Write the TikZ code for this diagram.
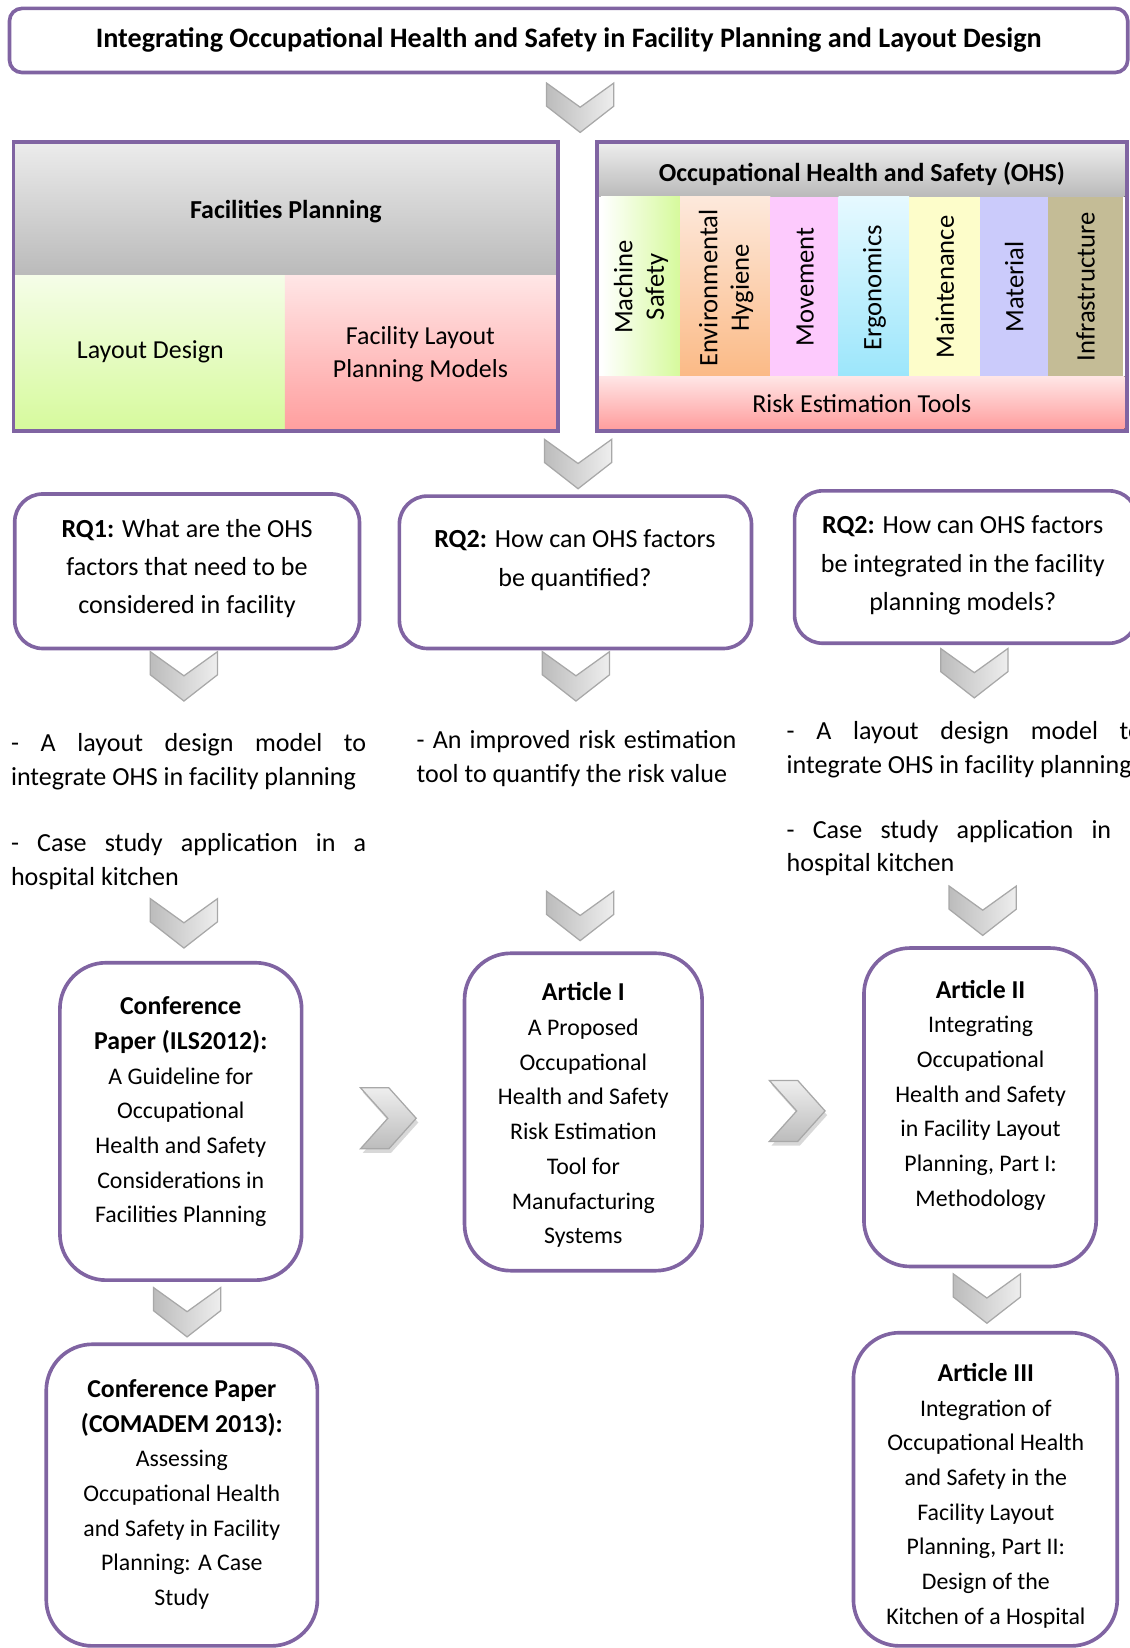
\documentclass[tikz,border=0pt]{standalone}
\usepackage{fontspec}
\setmainfont{Carlito}

\definecolor{boxpurple}{RGB}{128,100,162}
\definecolor{chevedge}{RGB}{168,168,168}
\definecolor{chevdark}{RGB}{188,188,188}
\definecolor{chevlight}{RGB}{238,238,238}
\definecolor{chevshadow}{RGB}{200,200,200}
\definecolor{hdrtop}{RGB}{236,236,236}
\definecolor{hdrbot}{RGB}{186,186,186}
\definecolor{greentop}{RGB}{245,253,232}
\definecolor{greenbot}{RGB}{214,250,156}
\definecolor{pinktop}{RGB}{255,230,230}
\definecolor{pinkbot}{RGB}{255,158,158}
\definecolor{peachtop}{RGB}{253,233,220}
\definecolor{peachbot}{RGB}{251,186,134}
\definecolor{movefill}{RGB}{253,202,253}
\definecolor{cyantop}{RGB}{230,249,255}
\definecolor{cyanbot}{RGB}{156,230,251}
\definecolor{maintfill}{RGB}{253,253,202}
\definecolor{matfill}{RGB}{203,203,251}
\definecolor{infrafill}{RGB}{196,188,150}

\newcommand{\pthead}[1]{{\fontsize{18.4}{24.75}\selectfont\bfseries #1}}

\tikzset{every picture/.style={line width=0.75pt},
  purplebox/.style={draw=boxpurple, line width=2.6pt},
  chevdown/.style={draw=chevedge, line width=0.9pt, left color=chevdark, right color=chevlight},
  chevright/.style={draw=chevedge, line width=0.9pt, top color=chevlight, bottom color=chevdark},
  chevshade/.style={fill=chevshadow, opacity=0.7},
  titletxt/.style={inner sep=0pt, font=\fontsize{20.1}{24}\selectfont\bfseries},
  hdrtxt/.style={inner sep=0pt, font=\fontsize{18.5}{22}\selectfont\bfseries},
  celltxt/.style={inner sep=0pt, align=center, font=\fontsize{18.5}{24}\selectfont},
  coltxt/.style={inner sep=0pt, align=center, rotate=90, font=\fontsize{19}{22.5}\selectfont},
  rqtxt/.style={inner sep=0pt, align=center, font=\fontsize{18.6}{27.4}\selectfont},
  outtxt/.style={inner sep=0pt, align=justify, text width=253.5pt, anchor=west, font=\fontsize{18.6}{24}\selectfont},
  papertxt/.style={inner sep=0pt, align=center, font=\fontsize{17}{24.75}\selectfont}
}

\begin{document}
\begin{tikzpicture}[x=0.75pt,y=0.75pt,yscale=-1,xscale=1]
\useasboundingbox (0,0) rectangle (1075,1568);

%Title
\draw [purplebox, rounded corners=9] (9,8) rectangle (1073,69) ;
\node [titletxt] (title) at (541,38) {Integrating Occupational Health and Safety in Facility Planning and Layout Design};

%Chevron
\draw [chevdown, shift={(552,79)}] (-32,0) -- (0,23) -- (32,0) -- (32,22) -- (0,47) -- (-32,22) -- cycle ;

%Facilities Planning block
\fill [top color=hdrtop, bottom color=hdrbot] (13,135) rectangle (531,262) ;
\fill [top color=greentop, bottom color=greenbot] (13,262) rectangle (271,410) ;
\fill [top color=pinktop, bottom color=pinkbot] (271,262) rectangle (531,410) ;
\draw [purplebox] (13,135) rectangle (531,410) ;
\node [hdrtxt] (fp) at (272,201) {Facilities Planning};
\node [celltxt] (layout) at (143,335) {Layout Design};
\node [celltxt] (flpm) at (400,337) {Facility Layout\\Planning Models};

%OHS block
\fill [top color=hdrtop, bottom color=hdrbot] (570,137) rectangle (1070,187) ;
\fill [left color=white, right color=greenbot] (572,187) rectangle (647,358) ;
\fill [top color=peachtop, bottom color=peachbot] (647,187) rectangle (733,358) ;
\fill [movefill] (733,187) rectangle (798,358) ;
\fill [top color=cyantop, bottom color=cyanbot] (798,187) rectangle (865,358) ;
\fill [maintfill] (865,187) rectangle (932,358) ;
\fill [matfill] (932,187) rectangle (997,358) ;
\fill [infrafill] (997,187) rectangle (1068,358) ;
\fill [top color=pinktop, bottom color=pinkbot] (570,358) rectangle (1070,408) ;
\draw [purplebox] (568,135) rectangle (1072,410) ;
\node [hdrtxt] (ohs) at (820,165) {Occupational Health and Safety (OHS)};
\node [coltxt] (machine) at (610,273) {Machine\\Safety};
\node [coltxt] (envhyg) at (691,274) {Environmental\\Hygiene};
\node [coltxt] (movement) at (766,273) {Movement};
\node [coltxt] (ergo) at (832,274) {Ergonomics};
\node [coltxt] (maint) at (899,273) {Maintenance};
\node [coltxt] (material) at (965,273) {Material};
\node [coltxt] (infra) at (1033,273) {Infrastructure};
\node [celltxt] (risktools) at (820,384) {Risk Estimation Tools};

%Chevron
\draw [chevdown, shift={(550,418)}] (-32,0) -- (0,23) -- (32,0) -- (32,22) -- (0,47) -- (-32,22) -- cycle ;

%Research questions
\draw [purplebox, rounded corners=20] (14,470) rectangle (342,617) ;
\node [rqtxt] (rqa) at (178,541) {\textbf{RQ1:} What are the OHS\\factors that need to be\\considered in facility};
\draw [purplebox, rounded corners=20] (380,472) rectangle (715,617) ;
\node [rqtxt] (rqb) at (547,533) {\textbf{RQ2:} How can OHS factors\\be quantified?};
\draw [purplebox, rounded corners=20] (756,467) rectangle (1082,612) ;
\node [rqtxt] (rqc) at (916,538) {\textbf{RQ2:} How can OHS factors\\be integrated in the facility\\planning models?};

%Chevrons
\draw [chevdown, shift={(175,620)}] (-32,0) -- (0,23) -- (32,0) -- (32,22) -- (0,47) -- (-32,22) -- cycle ;
\draw [chevdown, shift={(548,620)}] (-32,0) -- (0,23) -- (32,0) -- (32,22) -- (0,47) -- (-32,22) -- cycle ;
\draw [chevdown, shift={(927,617)}] (-32,0) -- (0,23) -- (32,0) -- (32,22) -- (0,47) -- (-32,22) -- cycle ;

%Outcomes
\node [outtxt] (outa) at (10,725) {- A layout design model to\linebreak integrate OHS in facility planning};
\node [outtxt] (outb) at (10,820) {- Case study application in a\linebreak hospital kitchen};
\node [outtxt, text width=228pt] (outc) at (396,722) {- An improved risk estimation\linebreak tool to quantify the risk value};
\node [outtxt] (outd) at (748,713) {- A layout design model to\linebreak integrate OHS in facility planning};
\node [outtxt] (oute) at (748,807) {- Case study application in a\linebreak hospital kitchen};

%Chevrons
\draw [chevdown, shift={(175,855)}] (-32,0) -- (0,23) -- (32,0) -- (32,22) -- (0,47) -- (-32,22) -- cycle ;
\draw [chevdown, shift={(552,848)}] (-32,0) -- (0,23) -- (32,0) -- (32,22) -- (0,47) -- (-32,22) -- cycle ;
\draw [chevdown, shift={(935,843)}] (-32,0) -- (0,23) -- (32,0) -- (32,22) -- (0,47) -- (-32,22) -- cycle ;

%Papers
\draw [purplebox, rounded corners=33] (57,916) rectangle (287,1218) ;
\node [papertxt] (ils) at (172,1058) {\pthead{Conference}\\\pthead{Paper (ILS2012):}\\A Guideline for\\Occupational\\Health and Safety\\Considerations in\\Facilities Planning};
\draw [purplebox, rounded corners=33] (442,907) rectangle (668,1209) ;
\node [papertxt] (arti) at (555,1061) {\pthead{Article I}\\A Proposed\\Occupational\\Health and Safety\\Risk Estimation\\Tool for\\Manufacturing\\Systems};
\draw [purplebox, rounded corners=33] (822,902) rectangle (1043,1205) ;
\node [papertxt] (artii) at (933,1042) {\pthead{Article II}\\Integrating\\Occupational\\Health and Safety\\in Facility Layout\\Planning, Part I:\\Methodology};

%Right chevrons (with shadow)
\fill [chevshade, shift={(345,1039)}] (0,0) -- (27,0) -- (53,29) -- (27,58) -- (0,58) -- (26,29) -- cycle ;
\draw [chevright, shift={(343,1035)}] (0,0) -- (27,0) -- (53,29) -- (27,58) -- (0,58) -- (26,29) -- cycle ;
\fill [chevshade, shift={(734,1032)}] (0,0) -- (27,0) -- (53,29) -- (27,58) -- (0,58) -- (26,29) -- cycle ;
\draw [chevright, shift={(732,1028)}] (0,0) -- (27,0) -- (53,29) -- (27,58) -- (0,58) -- (26,29) -- cycle ;

%Chevrons
\draw [chevdown, shift={(178,1225)}] (-32,0) -- (0,23) -- (32,0) -- (32,22) -- (0,47) -- (-32,22) -- cycle ;
\draw [chevdown, shift={(939,1212)}] (-32,0) -- (0,23) -- (32,0) -- (32,22) -- (0,47) -- (-32,22) -- cycle ;

%Papers
\draw [purplebox, rounded corners=33] (44,1279) rectangle (302,1566) ;
\node [papertxt] (comadem) at (173,1422) {\pthead{Conference Paper}\\\pthead{(COMADEM 2013):}\\Assessing\\Occupational Health\\and Safety in Facility\\Planning: A Case\\Study};
\draw [purplebox, rounded corners=33] (812,1268) rectangle (1063,1566) ;
\node [papertxt] (artiii) at (938,1423) {\pthead{Article III}\\Integration of\\Occupational Health\\and Safety in the\\Facility Layout\\Planning, Part II:\\Design of the\\Kitchen of a Hospital};

\end{tikzpicture}
\end{document}
